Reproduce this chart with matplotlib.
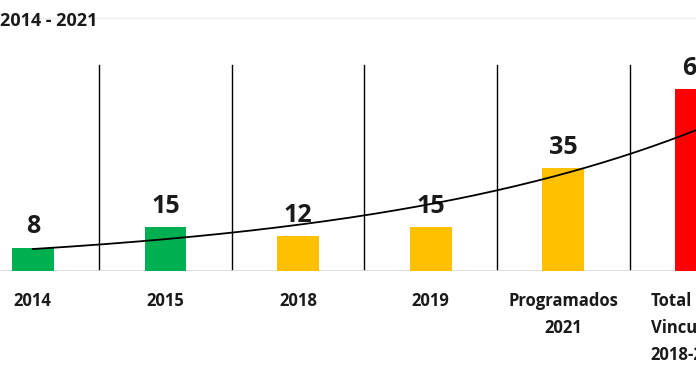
import numpy as np
import matplotlib
matplotlib.use("Agg")
import matplotlib.pyplot as plt

categories = ["2014", "2015", "2018", "2019", "Programados\n2021", "Total\nVinculados\n2018-2021"]
values = [8, 15, 12, 15, 35, 62]
colors = ["#00B050", "#00B050", "#FFC000", "#FFC000", "#FFC000", "#FF0000"]
title = "2014 - 2021"

plt.rcParams['font.family'] = ['Open Sans', 'DejaVu Sans']

W, H = 696, 385
fig = plt.figure(figsize=(W/100, H/100), dpi=100)
base_px = 271
top_px = 17
ax = fig.add_axes([0, (H-base_px)/H, 1, (base_px-top_px)/H])
ppu = 2.93
ax.set_ylim(0, (base_px-top_px)/ppu)
x0 = 33; step = 133.5
ax.set_xlim(-x0/step, (W-x0)/step)

x = np.arange(len(values))
ax.bar(x, values, width=0.315, color=colors, zorder=2)

for xi, v in zip(x, values):
    ax.annotate(str(v), (xi, v), xytext=(0, 6), textcoords='offset points',
                ha='center', va='bottom', fontsize=18, fontweight='bold', color='#1a1a1a')

# dividers
for d in np.arange(0.5, len(values)-0.5, 1):
    ax.plot([d, d], [0, 70.3], color='black', lw=1.0, zorder=1)

# exponential trendline
b, a = np.polyfit(x + 1, np.log(values), 1)
xt = np.linspace(0, len(values)-1, 200)
ax.plot(xt, np.exp(a + b*(xt+1)), color='black', lw=1.3, zorder=3)

ax.axhline(0, color='#d9d9d9', lw=1.2, zorder=1)
ax.axhline(ax.get_ylim()[1]-0.2, color='#eeeeee', lw=1, zorder=1)

for s in ax.spines.values():
    s.set_visible(False)
ax.set_xticks(x)
ax.set_xticklabels(categories, fontsize=12, fontweight='bold', color='#1a1a1a', linespacing=1.65)
ax.get_xticklabels()[-1].set_multialignment('left')
ax.tick_params(axis='x', length=0, pad=15)
ax.set_yticks([])

fig.text(0, 1 - 21/H, title, ha='left', va='center', fontsize=13, fontweight='bold', color='#1a1a1a')

fig.savefig("out.png", dpi=100)
